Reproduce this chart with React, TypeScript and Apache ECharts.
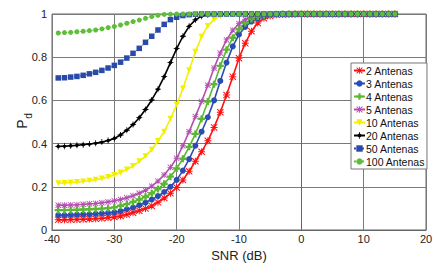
import React, { useEffect, useRef } from "react";
import * as echarts from "echarts";

const snrDb = [
  -39, -38, -37, -36, -35, -34, -33, -32, -31, -30, -29, -28, -27, -26, -25, -24, -23, -22, -21, -20,
  -19, -18, -17, -16, -15, -14, -13, -12, -11, -10, -9, -8, -7, -6, -5, -4, -3, -2, -1, 0,
  1, 2, 3, 4, 5, 6, 7, 8, 9, 10, 11, 12, 13, 14, 15,
];

const pd2 = [
  0.047, 0.047, 0.048, 0.049, 0.05, 0.051, 0.052, 0.054, 0.057, 0.06, 0.065, 0.072, 0.08, 0.089, 0.099, 0.111, 0.128, 0.148, 0.17, 0.197,
  0.232, 0.272, 0.318, 0.362, 0.413, 0.475, 0.545, 0.625, 0.71, 0.795, 0.865, 0.92, 0.958, 0.98, 0.991, 0.996, 0.998, 0.999, 1, 1,
  1, 1, 1, 1, 1, 1, 1, 1, 1, 1, 1, 1, 1, 1, 1,
];
const pd3 = [
  0.069, 0.069, 0.07, 0.071, 0.072, 0.073, 0.075, 0.077, 0.079, 0.082, 0.087, 0.096, 0.104, 0.115, 0.127, 0.141, 0.157, 0.176, 0.2, 0.232,
  0.275, 0.328, 0.39, 0.455, 0.522, 0.6, 0.69, 0.775, 0.85, 0.905, 0.94, 0.965, 0.98, 0.99, 0.995, 0.998, 0.999, 1, 1, 1,
  1, 1, 1, 1, 1, 1, 1, 1, 1, 1, 1, 1, 1, 1, 1,
];
const pd4 = [
  0.092, 0.092, 0.093, 0.094, 0.095, 0.096, 0.097, 0.099, 0.101, 0.105, 0.112, 0.12, 0.13, 0.141, 0.154, 0.17, 0.19, 0.214, 0.247, 0.285,
  0.33, 0.385, 0.445, 0.515, 0.595, 0.675, 0.76, 0.835, 0.89, 0.93, 0.958, 0.977, 0.988, 0.994, 0.997, 0.999, 1, 1, 1, 1,
  1, 1, 1, 1, 1, 1, 1, 1, 1, 1, 1, 1, 1, 1, 1,
];
const pd5 = [
  0.115, 0.115, 0.116, 0.117, 0.119, 0.121, 0.123, 0.126, 0.13, 0.135, 0.141, 0.149, 0.158, 0.17, 0.184, 0.203, 0.226, 0.255, 0.29, 0.332,
  0.39, 0.455, 0.525, 0.595, 0.67, 0.75, 0.82, 0.88, 0.925, 0.955, 0.975, 0.988, 0.994, 0.997, 0.999, 1, 1, 1, 1, 1,
  1, 1, 1, 1, 1, 1, 1, 1, 1, 1, 1, 1, 1, 1, 1,
];
const pd10 = [
  0.217, 0.218, 0.22, 0.222, 0.225, 0.228, 0.233, 0.238, 0.245, 0.255, 0.266, 0.28, 0.296, 0.318, 0.342, 0.372, 0.412, 0.455, 0.515, 0.58,
  0.655, 0.74, 0.825, 0.895, 0.945, 0.975, 0.99, 0.996, 0.999, 1, 1, 1, 1, 1, 1, 1, 1, 1, 1, 1,
  1, 1, 1, 1, 1, 1, 1, 1, 1, 1, 1, 1, 1, 1, 1,
];
const pd20 = [
  0.387, 0.388, 0.39, 0.392, 0.395, 0.398, 0.402, 0.407, 0.414, 0.424, 0.44, 0.462, 0.488, 0.52, 0.558, 0.602, 0.652, 0.71, 0.775, 0.84,
  0.897, 0.943, 0.973, 0.99, 0.997, 0.999, 1, 1, 1, 1, 1, 1, 1, 1, 1, 1, 1, 1, 1, 1,
  1, 1, 1, 1, 1, 1, 1, 1, 1, 1, 1, 1, 1, 1, 1,
];
const pd50 = [
  0.704, 0.705, 0.708, 0.711, 0.716, 0.723, 0.73, 0.739, 0.75, 0.762, 0.777, 0.796, 0.818, 0.841, 0.869, 0.897, 0.926, 0.952, 0.974, 0.985,
  0.993, 0.997, 0.999, 1, 1, 1, 1, 1, 1, 1, 1, 1, 1, 1, 1, 1, 1, 1, 1, 1,
  1, 1, 1, 1, 1, 1, 1, 1, 1, 1, 1, 1, 1, 1, 1,
];
const pd100 = [
  0.912, 0.914, 0.915, 0.918, 0.92, 0.923, 0.926, 0.931, 0.937, 0.942, 0.949, 0.957, 0.965, 0.972, 0.98, 0.988, 0.994, 0.998, 0.999, 1,
  1, 1, 1, 1, 1, 1, 1, 1, 1, 1, 1, 1, 1, 1, 1, 1, 1, 1, 1, 1,
  1, 1, 1, 1, 1, 1, 1, 1, 1, 1, 1, 1, 1, 1, 1,
];

const seriesNames = [
  "2 Antenas", "3 Antenas", "4 Antenas", "5 Antenas",
  "10 Antenas", "20 Antenas", "50 Antenas", "100 Antenas",
];
const xTicks = [-40, -30, -20, -10, 0, 10, 20];
const yTicks = [0, 0.2, 0.4, 0.6, 0.8, 1];

const FONT = "'Liberation Sans', Arial, Helvetica, sans-serif";

const ASTERISK =
  "path://M4.3,0L5.7,0L5.7,4.3L10,4.3L10,5.7L5.7,5.7L5.7,10L4.3,10L4.3,5.7L0,5.7L0,4.3L4.3,4.3Z" +
  "M1,0L5,4L9,0L10,1L6,5L10,9L9,10L5,6L1,10L0,9L4,5L0,1Z";
const PLUS =
  "path://M3.3,0L6.7,0L6.7,3.3L10,3.3L10,6.7L6.7,6.7L6.7,10L3.3,10L3.3,6.7L0,6.7L0,3.3L3.3,3.3Z";
const TRI_DOWN = "path://M0,0L10,0L5,9Z";
const DIAMOND_PLUS =
  "path://M5,1L9,5L5,9L1,5Z" +
  "M4.3,0L5.7,0L5.7,4.3L10,4.3L10,5.7L5.7,5.7L5.7,10L4.3,10L4.3,5.7L0,5.7L0,4.3L4.3,4.3Z";

export default function App() {
  const ref = useRef<HTMLDivElement>(null);

  useEffect(() => {
    if (!ref.current) return;
    const chart = echarts.init(ref.current, undefined, { renderer: "svg" });

    const mk = (
      name: string,
      values: number[],
      color: string,
      symbol: string,
      size: number,
      lineType: "solid" | "dotted" = "solid",
      lineWidth = 1.6
    ) => ({
      name,
      type: "line",
      data: snrDb.map((x, i) => [x, values[i]]),
      symbol,
      symbolSize: size,
      showSymbol: true,
      clip: false,
      lineStyle: { color, width: lineWidth, type: lineType },
      itemStyle: { color, borderWidth: 0 },
      emphasis: { disabled: true },
    });

    const series = [
      mk(seriesNames[0], pd2, "#ff1010", ASTERISK, 7),
      mk(seriesNames[1], pd3, "#2a4db3", "circle", 6),
      mk(seriesNames[2], pd4, "#5cb832", PLUS, 7),
      mk(seriesNames[3], pd5, "#b44fb0", ASTERISK, 6),
      mk(seriesNames[4], pd10, "#f2f000", TRI_DOWN, 6),
      mk(seriesNames[5], pd20, "#000000", DIAMOND_PLUS, 6),
      mk(seriesNames[6], pd50, "#2a4aaa", "rect", 5.5, "dotted", 1),
      mk(seriesNames[7], pd100, "#5fbd3c", "circle", 5, "dotted", 1),
    ];

    chart.setOption({
      animation: false,
      backgroundColor: "#ffffff",
      grid: {
        left: 52,
        right: 21,
        top: 14,
        bottom: 37,
        show: true,
        borderColor: "#666",
        borderWidth: 1,
        backgroundColor: "transparent",
      },
      xAxis: {
        type: "value",
        min: xTicks[0],
        max: xTicks[xTicks.length - 1],
        interval: 10,
        name: "SNR (dB)",
        nameLocation: "middle",
        nameGap: 14,
        nameTextStyle: { fontFamily: FONT, fontSize: 13, color: "#222" },
        axisLine: { show: true, onZero: false, lineStyle: { color: "#666" } },
        axisTick: { show: false },
        axisLabel: { fontFamily: FONT, fontSize: 11, color: "#222", margin: 3 },
        splitLine: { show: true, lineStyle: { color: "#7a7a7a", width: 1 } },
      },
      yAxis: {
        type: "value",
        min: yTicks[0],
        max: yTicks[yTicks.length - 1],
        interval: 0.2,
        axisLine: { show: true, lineStyle: { color: "#666" } },
        axisTick: { show: false },
        axisLabel: { fontFamily: FONT, fontSize: 11, color: "#222", margin: 5 },
        splitLine: { show: true, lineStyle: { color: "#7a7a7a", width: 1 } },
      },
      legend: {
        data: seriesNames,
        orient: "vertical",
        left: 351,
        top: 63,
        backgroundColor: "#ffffff",
        borderColor: "#777",
        borderWidth: 1,
        padding: [2, 2, 2, 2],
        itemWidth: 11,
        itemHeight: 8,
        itemGap: 2,
        selectedMode: false,
        textStyle: {
          fontFamily: FONT,
          fontSize: 10.5,
          color: "#111",
          padding: [0, 0, 0, -4],
        },
      },
      graphic: [
        {
          type: "text",
          x: 22,
          y: 124,
          rotation: Math.PI / 2,
          style: {
            text: "P",
            fontFamily: FONT,
            fontSize: 14,
            fill: "#222",
            align: "center",
            verticalAlign: "middle",
          },
        },
        {
          type: "text",
          x: 28,
          y: 116,
          rotation: Math.PI / 2,
          style: {
            text: "d",
            fontFamily: FONT,
            fontSize: 10,
            fill: "#222",
            align: "center",
            verticalAlign: "middle",
          },
        },
      ],
      series,
    });

    return () => chart.dispose();
  }, []);

  return (
    <div
      ref={ref}
      style={{ position: "absolute", left: 0, top: 0, width: 447, height: 267 }}
    />
  );
}
